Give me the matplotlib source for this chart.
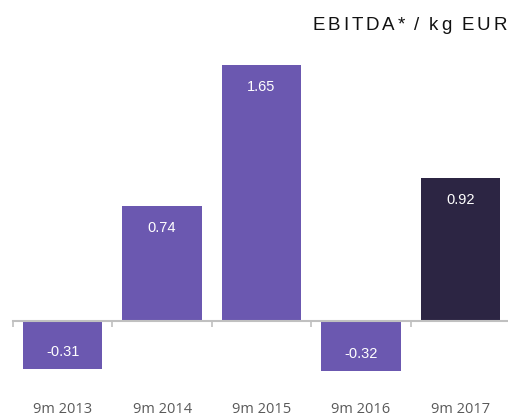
import matplotlib.pyplot as plt
import numpy as np

categories = ["9m 2013", "9m 2014", "9m 2015", "9m 2016", "9m 2017"]
values = [-0.31, 0.74, 1.65, -0.32, 0.92]
colors = ["#6b58b0", "#6b58b0", "#6b58b0", "#6b58b0", "#2c2543"]
title = "EBITDA* / kg EUR"

plt.rcParams['font.family'] = ['Liberation Sans', 'DejaVu Sans']

fig = plt.figure(figsize=(5.08, 4.16), dpi=100)
ax = fig.add_axes([13 / 508, 0, 497 / 508, 1])

x = np.arange(len(values))
bars = ax.bar(x, values, width=0.8, color=colors, zorder=2)

# value labels inside the bars
for xi, v in zip(x, values):
    if v >= 0:
        ax.text(xi, v - 0.14, f"{v:.2f}", ha='center', va='center',
                color='white', fontsize=10.5)
    else:
        ax.text(xi, v + 0.11, f"{v:.2f}", ha='center', va='center',
                color='white', fontsize=10.5)

ax.set_xlim(-0.5, len(values) - 0.5)
ax.set_ylim(-95 / 155, 321 / 155)

for s in ['top', 'left', 'right']:
    ax.spines[s].set_visible(False)
ax.spines['bottom'].set_position(('data', 0))
ax.spines['bottom'].set_color('#c0c0c0')
ax.spines['bottom'].set_linewidth(1.5)
ax.spines['bottom'].set_zorder(3)

ax.set_yticks([])
ax.set_xticks(x)
ax.set_xticklabels(categories, family='Open Sans')
ax.tick_params(axis='x', which='major', length=0, pad=58, labelsize=10.5,
               labelcolor='#5a5a5a')
ax.set_xticks(np.arange(len(values) + 1) - 0.5, minor=True)
ax.tick_params(axis='x', which='minor', length=4, width=1.2, color='#c0c0c0')

# title with wide letter spacing, drawn one character at a time
renderer = fig.canvas.get_renderer()
xpos = 312
spacing = 3.0
for ch in title:
    t = fig.text(xpos / 508, 1 - 25 / 416, ch, ha='left', va='center',
                 fontsize=13.5, color='#111111')
    if ch == ' ':
        w = 3.5
    else:
        w = t.get_window_extent(renderer).width
    xpos += w + spacing

fig.savefig("out.png", dpi=100)
